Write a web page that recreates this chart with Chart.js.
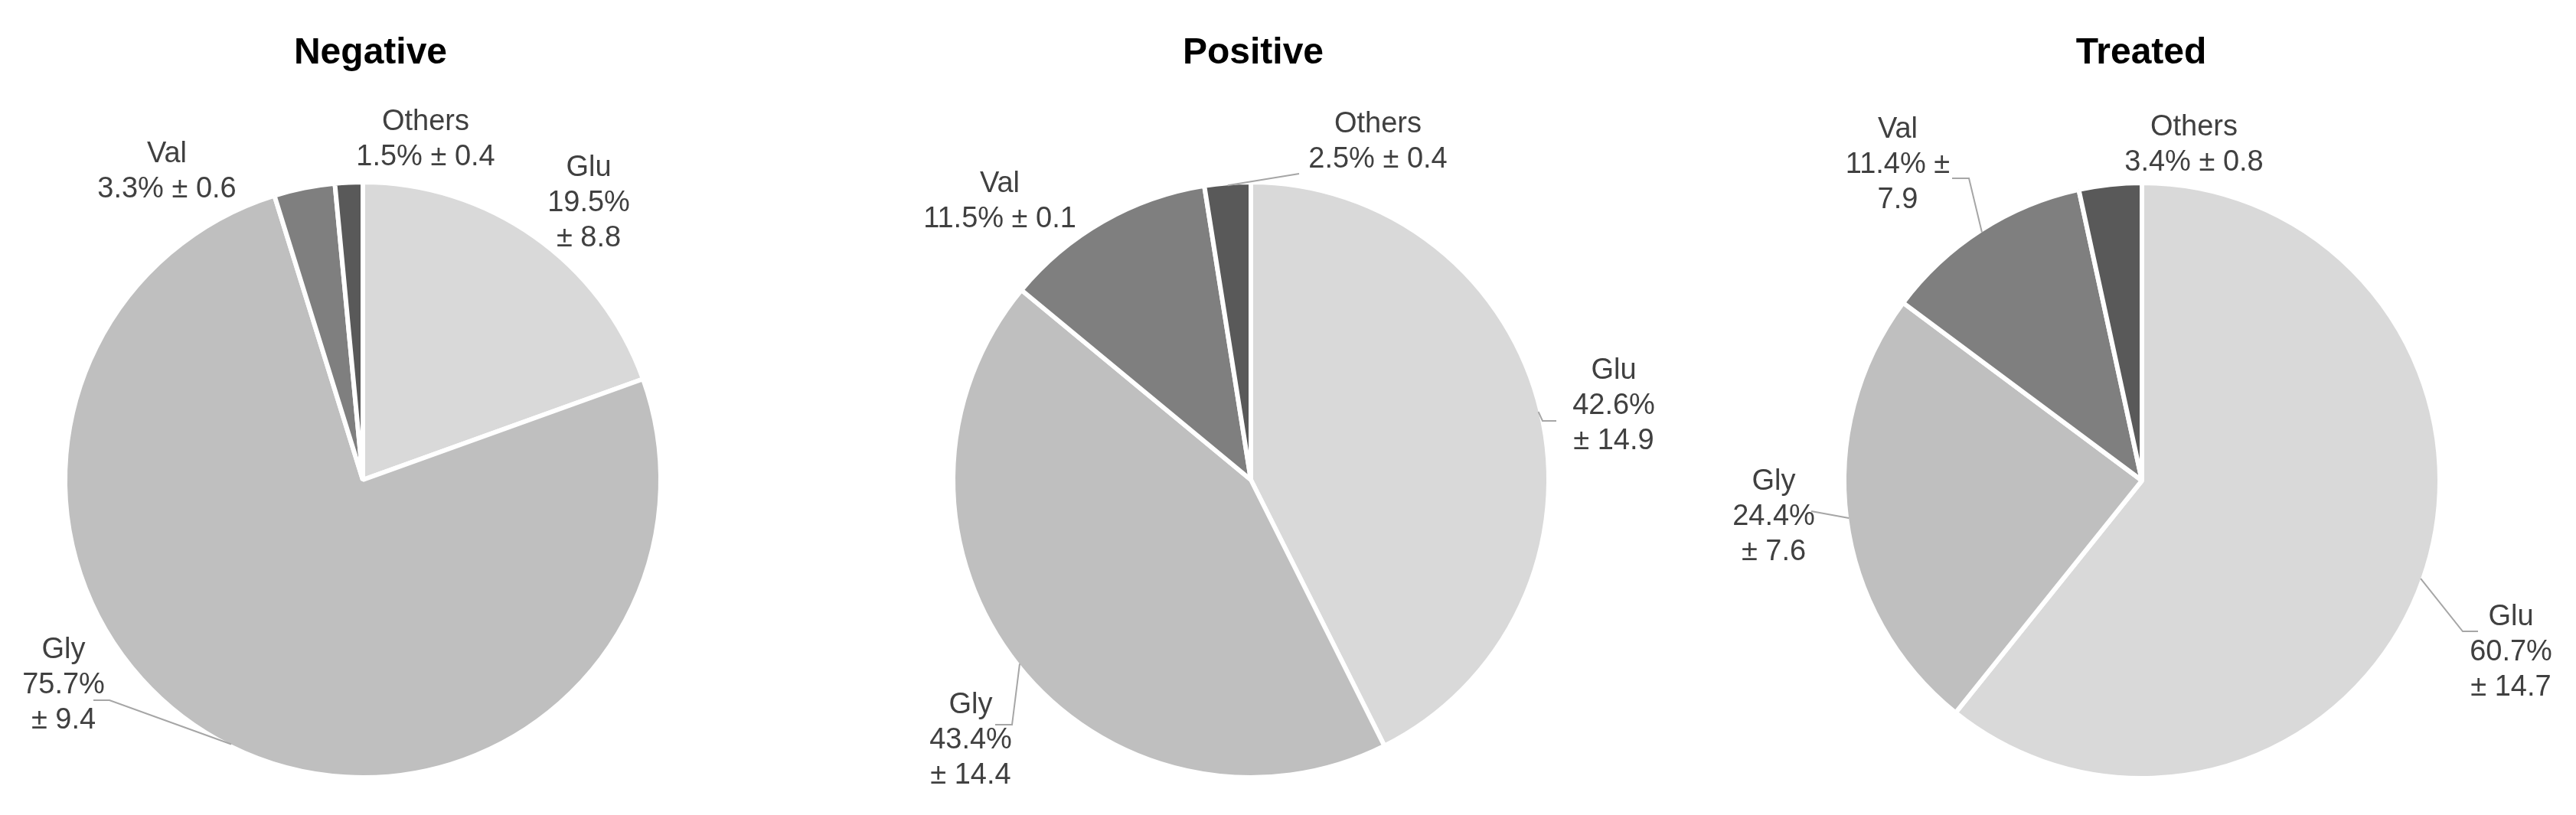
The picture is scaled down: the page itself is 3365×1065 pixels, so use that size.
<!DOCTYPE html>
<html>
<head>
<meta charset="utf-8">
<title>Amino acid composition</title>
<script src="https://cdn.jsdelivr.net/npm/chart.js@4.4.1/dist/chart.umd.min.js"></script>
<style>
  html, body { margin: 0; padding: 0; background: #ffffff; }
  #page { position: relative; width: 3365px; height: 1065px; overflow: hidden; }
  #page canvas { position: absolute; top: 0; }
</style>
</head>
<body>
<div id="page">
  <canvas id="pie-negative" width="1122" height="1065" style="left:0px;"></canvas>
  <canvas id="pie-positive" width="1122" height="1065" style="left:1122px;"></canvas>
  <canvas id="pie-treated" width="1122" height="1065" style="left:2243px;"></canvas>
</div>
<script>
/* data: share (%) and spread (±) per amino acid */
var categories = ['Glu', 'Gly', 'Val', 'Others'];
var panelTitles = ['Negative', 'Positive', 'Treated'];

var negativeValues = [19.5, 75.7, 3.3, 1.5];
var negativeSD = [8.8, 9.4, 0.6, 0.4];

var positiveValues = [42.6, 43.4, 11.5, 2.5];
var positiveSD = [14.9, 14.4, 0.1, 0.4];

var treatedValues = [60.7, 24.4, 11.4, 3.4];
var treatedSD = [14.7, 7.6, 7.9, 0.8];

var sliceColors = ['#d9d9d9', '#bfbfbf', '#7f7f7f', '#595959'];
var TEXT_COLOR = '#404040';
var LEADER_COLOR = '#a6a6a6';
var LABEL_FONT = '38px "Liberation Sans", Arial, sans-serif';
var TITLE_FONT = 'bold 48px "Liberation Sans", Arial, sans-serif';
var LINE_HEIGHT = 46;

// label placement, relative to the pie centre (first baseline); leaders run start -> elbow -> slice edge
var panelLayout = [
  {
    canvas: 'pie-negative', padding: { top: 189, bottom: 0, left: 0, right: 174 }, titleDx: 10,
    labels: [
      { dx: 295, dy: -397, wrap: 'three' },
      { dx: -391, dy: 233, wrap: 'three', leader: [[-352, 288], [-331, 288]] },
      { dx: -256, dy: -415, wrap: 'two' },
      { dx: 82, dy: -457, wrap: 'two' }
    ]
  },
  {
    canvas: 'pie-positive', padding: { top: 189, bottom: 0, left: 0, right: 98 }, titleDx: 3,
    labels: [
      { dx: 474, dy: -132, wrap: 'three', leader: [[399, -77], [381, -77]] },
      { dx: -366, dy: 305, wrap: 'three', leader: [[-334, 320], [-312, 320]] },
      { dx: -328, dy: -376, wrap: 'two' },
      { dx: 166, dy: -454, wrap: 'two', leader: [[63, -400], [63, -400]] }
    ]
  },
  {
    canvas: 'pie-treated', padding: { top: 191, bottom: 0, left: 0, right: 12 }, titleDx: -1,
    labels: [
      { dx: 482, dy: 189, wrap: 'three', leader: [[439, 197], [419, 197]] },
      { dx: -481, dy: 12, wrap: 'three', leader: [[-432, 40], [-432, 40]] },
      { dx: -319, dy: -448, wrap: 'split', leader: [[-248, -395], [-226, -395]] },
      { dx: 68, dy: -451, wrap: 'two' }
    ]
  }
];

var panelData = [
  { values: negativeValues, sd: negativeSD },
  { values: positiveValues, sd: positiveSD },
  { values: treatedValues, sd: treatedSD }
];

function labelLines(name, v, sd, wrap) {
  var pct = v.toFixed(1) + '%';
  var err = sd.toFixed(1);
  if (wrap === 'three') return [name, pct, '\u00b1 ' + err];
  if (wrap === 'split') return [name, pct + ' \u00b1', err];
  return [name, pct + ' \u00b1 ' + err];
}

var pieLabels = {
  id: 'pieLabels',
  afterDatasetsDraw: function (chart, args, opts) {
    var ctx = chart.ctx;
    var meta = chart.getDatasetMeta(0);
    var layout = opts.layout;
    var data = opts.data;
    if (!meta.data.length) return;

    var cx = meta.data[0].x;
    var cy = meta.data[0].y;

    ctx.save();

    // title
    ctx.fillStyle = '#000000';
    ctx.font = TITLE_FONT;
    ctx.textAlign = 'center';
    ctx.textBaseline = 'alphabetic';
    ctx.fillText(opts.title, cx + layout.titleDx, 83);

    meta.data.forEach(function (arc, i) {
      var p = arc.getProps(['x', 'y', 'startAngle', 'endAngle', 'outerRadius'], true);
      var mid = (p.startAngle + p.endAngle) / 2;
      var r = p.outerRadius - 3;
      var ex = p.x + Math.cos(mid) * r;
      var ey = p.y + Math.sin(mid) * r;
      var lab = layout.labels[i];

      if (lab.leader) {
        ctx.strokeStyle = LEADER_COLOR;
        ctx.lineWidth = 2;
        ctx.beginPath();
        ctx.moveTo(cx + lab.leader[0][0], cy + lab.leader[0][1]);
        ctx.lineTo(cx + lab.leader[1][0], cy + lab.leader[1][1]);
        ctx.lineTo(ex, ey);
        ctx.stroke();
      }

      ctx.fillStyle = TEXT_COLOR;
      ctx.font = LABEL_FONT;
      var lines = labelLines(categories[i], data.values[i], data.sd[i], lab.wrap);
      lines.forEach(function (line, k) {
        ctx.fillText(line, cx + lab.dx, cy + lab.dy + k * LINE_HEIGHT);
      });
    });

    ctx.restore();
  }
};

panelLayout.forEach(function (layout, idx) {
  var d = panelData[idx];
  new Chart(document.getElementById(layout.canvas), {
    type: 'pie',
    data: {
      labels: categories,
      datasets: [{
        data: d.values,
        backgroundColor: sliceColors,
        borderColor: '#ffffff',
        borderWidth: 6,
        clip: false
      }]
    },
    options: {
      responsive: false,
      animation: false,
      events: [],
      radius: 389,
      layout: { padding: layout.padding },
      plugins: {
        legend: { display: false },
        tooltip: { enabled: false },
        title: { display: false },
        pieLabels: { layout: layout, data: d, title: panelTitles[idx] }
      }
    },
    plugins: [pieLabels]
  });
});
</script>
</body>
</html>
